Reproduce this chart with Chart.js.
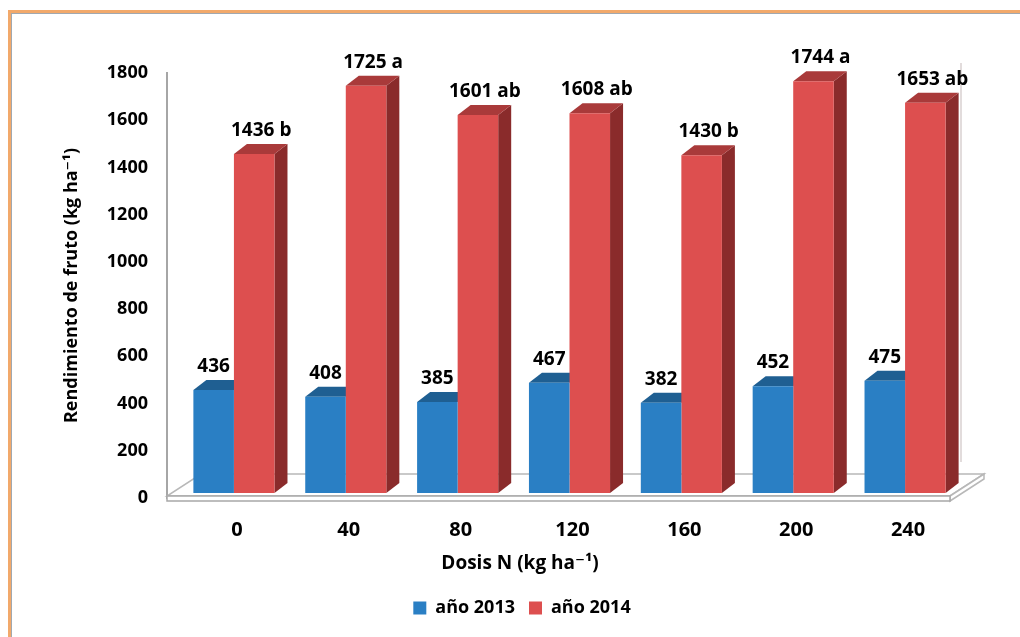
<!DOCTYPE html>
<html>
<head>
<meta charset="utf-8">
<script src="https://cdn.jsdelivr.net/npm/chart.js@4"></script>
<style>
  html, body { margin: 0; padding: 0; background: #fff; overflow: hidden; }
  #frame {
    position: absolute; left: 8px; top: 10px; width: 1100px; height: 700px;
    border-left: 3px solid #f2a96b; border-top: 3px solid #f2a96b;
  }
  #frame::after {
    content: ''; position: absolute; left: 0; top: 0; right: 0; bottom: 0;
    border-left: 1px solid #a0a8b0; border-top: 1px solid #a0a8b0;
  }
  #wrap { position: absolute; left: 0; top: 0; width: 1020px; height: 637px; }
</style>
</head>
<body>
<div id="frame"></div>
<div id="wrap"><canvas id="chart" width="1020" height="637"></canvas></div>
<script>
// --- data ---
const doses = ['0', '40', '80', '120', '160', '200', '240'];
const yield2013 = [436, 408, 385, 467, 382, 452, 475];
const yield2014 = [1436, 1725, 1601, 1608, 1430, 1744, 1653];
const letters2014 = ['b', 'a', 'ab', 'ab', 'b', 'a', 'ab'];
const seriesNames = ['año 2013', 'año 2014'];

const FONT = "'Open Sans', 'DejaVu Sans', sans-serif";

// 3D look (pixels)
const SHIFT_X = 11, SHIFT_Y = -5;   // bars sit a bit behind the front plane
const DEPTH_X = 13, DEPTH_Y = 10;   // bar depth
const FLOOR_X = 34, FLOOR_Y = 22;   // floor depth

const faceColors = [
    { front: '#2a7fc4', top: '#1f5f92', side: '#1a4f7a' },
    { front: '#dd4f4f', top: '#a93a3a', side: '#8a2b2b' }
];

function poly(ctx, pts, fill, stroke) {
    ctx.beginPath();
    ctx.moveTo(pts[0][0], pts[0][1]);
    for (let i = 1; i < pts.length; i++) ctx.lineTo(pts[i][0], pts[i][1]);
    ctx.closePath();
    if (fill) { ctx.fillStyle = fill; ctx.fill(); }
    if (stroke) { ctx.strokeStyle = stroke; ctx.stroke(); }
}

// draws floor, bar tops and sides; the fronts come from Chart.js itself
const bars3d = {
    id: 'bars3d',
    beforeDatasetsDraw(chart) {
        const ctx = chart.ctx;
        const a = chart.chartArea;
        const L = a.left, R = a.right, B = a.bottom;

        ctx.save();
        ctx.lineWidth = 1.5;
        // faint back wall edge on the right
        ctx.strokeStyle = '#d9d0d0';
        ctx.beginPath();
        ctx.moveTo(R + 11, a.top - 10);
        ctx.lineTo(R + 11, B - FLOOR_Y - 14);
        ctx.stroke();
        // floor slab
        const t = B - 2, b = B + 3;
        poly(ctx, [[L, t], [R, t], [R + FLOOR_X, t - FLOOR_Y], [L + FLOOR_X, t - FLOOR_Y]], '#ffffff', '#b8b8b8');
        poly(ctx, [[R, t], [R + FLOOR_X, t - FLOOR_Y], [R + FLOOR_X, b - FLOOR_Y], [R, b]], '#ffffff', '#b8b8b8');
        poly(ctx, [[L, t], [R, t], [R, b], [L, b]], '#ffffff', '#a8a8a8');
        ctx.restore();

        ctx.save();
        ctx.translate(SHIFT_X, SHIFT_Y);
        chart.data.datasets.forEach((ds, di) => {
            const meta = chart.getDatasetMeta(di);
            meta.data.forEach(bar => {
                const l = bar.x - bar.width / 2, r = bar.x + bar.width / 2;
                const y = bar.y, base = bar.base;
                if (di === chart.data.datasets.length - 1) {
                    poly(ctx, [[r, y], [r + DEPTH_X, y - DEPTH_Y], [r + DEPTH_X, base - DEPTH_Y], [r, base]], faceColors[di].side);
                }
                poly(ctx, [[l, y], [r, y], [r + DEPTH_X, y - DEPTH_Y], [l + DEPTH_X, y - DEPTH_Y]], faceColors[di].top);
            });
        });
        // keep the shift for the library's own bar fronts
    },
    afterDatasetsDraw(chart) {
        const ctx = chart.ctx;
        ctx.restore();

        // value labels above the bars
        ctx.save();
        ctx.font = "bold 19px " + FONT;
        ctx.fillStyle = '#000';
        ctx.textAlign = 'center';
        ctx.textBaseline = 'bottom';
        chart.data.datasets.forEach((ds, di) => {
            const meta = chart.getDatasetMeta(di);
            meta.data.forEach((bar, i) => {
                let txt = String(ds.data[i]);
                if (di === 1) txt += ' ' + letters2014[i];
                const x = bar.x + SHIFT_X + (di === 1 ? 7 : 0);
                ctx.fillText(txt, x, bar.y + SHIFT_Y - DEPTH_Y - 4);
            });
        });
        ctx.restore();
    },
    afterDraw(chart) {
        // x axis title, centred on the whole picture like the original
        const ctx = chart.ctx;
        ctx.save();
        ctx.font = "bold 19px " + FONT;
        ctx.fillStyle = '#000';
        ctx.textAlign = 'center';
        ctx.textBaseline = 'middle';
        ctx.fillText('Dosis N (kg ha⁻¹)', chart.width / 2 + 10, chart.chartArea.bottom + 66);
        ctx.restore();
    }
};

new Chart(document.getElementById('chart'), {
    type: 'bar',
    data: {
        labels: doses,
        datasets: [
            {
                label: seriesNames[0],
                data: yield2013,
                backgroundColor: faceColors[0].front,
                borderWidth: 0
            },
            {
                label: seriesNames[1],
                data: yield2014,
                backgroundColor: faceColors[1].front,
                borderWidth: 0
            }
        ]
    },
    options: {
        responsive: false,
        animation: false,
        clip: false,
        categoryPercentage: 0.725,
        barPercentage: 1.0,
        layout: { padding: { left: 24, top: 73, right: 0, bottom: 10 } },
        scales: {
            x: {
                grid: { display: false, drawTicks: false },
                border: { display: false },
                ticks: {
                    color: '#000',
                    font: { family: FONT, size: 20, weight: 'bold' },
                    padding: 20,
                    labelOffset: 14
                },
                afterFit: scale => { scale.height = 87; }
            },
            y: {
                min: 0,
                max: 1800,
                grid: { display: false, drawTicks: false },
                border: { display: true, color: '#a6a6a6', width: 2 },
                ticks: {
                    stepSize: 200,
                    color: '#000',
                    font: { family: FONT, size: 18, weight: 'bold' },
                    padding: 19,
                    callback: v => String(v)
                },
                title: {
                    display: true,
                    text: 'Rendimiento de fruto (kg ha⁻¹)',
                    color: '#000',
                    font: { family: FONT, size: 18, weight: 'bold' },
                    padding: { top: 37, bottom: 0 }
                },
                afterFit: scale => { scale.width = 143; }
            },
            // empty right-hand axis: reserves the space the 3D floor needs
            yRight: {
                position: 'right',
                display: true,
                grid: { display: false, drawTicks: false },
                border: { display: false },
                ticks: { display: false },
                afterFit: scale => { scale.width = 70; }
            }
        },
        plugins: {
            legend: {
                position: 'bottom',
                labels: {
                    color: '#000',
                    font: { family: FONT, size: 18, weight: 'bold' },
                    boxWidth: 13,
                    boxHeight: 13,
                    padding: 14
                }
            },
            tooltip: { enabled: false }
        }
    },
    plugins: [bars3d]
});
</script>
</body>
</html>
